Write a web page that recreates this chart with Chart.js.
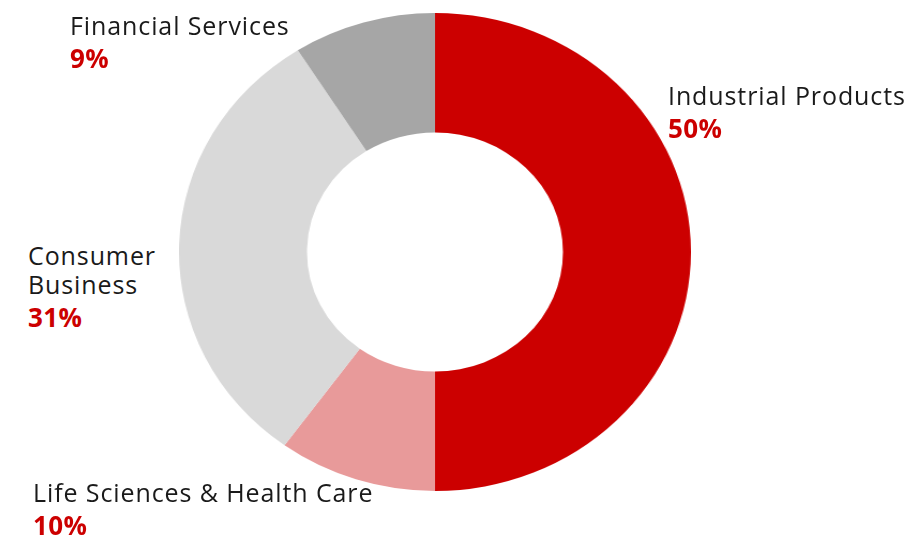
<!DOCTYPE html>
<html>
<head>
<meta charset="utf-8">
<script src="https://cdn.jsdelivr.net/npm/chart.js@4.4.1/dist/chart.umd.min.js"></script>
<style>
  html, body { margin: 0; padding: 0; background: #fff; }
  #wrap { position: relative; width: 908px; height: 536px; overflow: hidden; font-family: "Open Sans", sans-serif; }
  #pie { position: absolute; left: 179px; top: 13px; width: 478px; height: 478px;
         transform: scaleX(1.071); transform-origin: 0 0; }
  .lbl { position: absolute; font-size: 25px; line-height: 29px; letter-spacing: 0.9px; color: #1a1a1a; white-space: nowrap; }
  .lbl b { display: block; color: #cc0000; font-weight: 700; font-size: 26px; line-height: 36px; letter-spacing: 0.4px; }
</style>
</head>
<body>
<div id="wrap">
  <div id="pie"><canvas id="chart" width="478" height="478"></canvas></div>
  <div id="labels"></div>
</div>
<script>
// segment data, clockwise from 12 o'clock
const categories = ['Industrial Products', 'Life Sciences & Health Care', 'Consumer Business', 'Financial Services'];
const shares = [50, 10, 31, 9];
const colors = ['#cc0000', '#e89a9a', '#d9d9d9', '#a6a6a6'];
// how each label is broken into lines, and where it sits
const labelLines = [['Industrial Products'], ['Life Sciences & Health Care'], ['Consumer', 'Business'], ['Financial Services']];
const labelPos = [[668, 81], [33, 478], [28, 241], [70, 11]];

const ctx = document.getElementById('chart').getContext('2d');
new Chart(ctx, {
    type: 'doughnut',
    data: {
        labels: categories,
        datasets: [{
            data: shares,
            backgroundColor: colors,
            borderWidth: 0
        }]
    },
    options: {
        responsive: false,
        animation: false,
        cutout: '50%',
        rotation: 0,
        layout: { padding: 0 },
        plugins: {
            legend: { display: false },
            tooltip: { enabled: false }
        }
    }
});

const box = document.getElementById('labels');
categories.forEach((c, i) => {
    const d = document.createElement('div');
    d.className = 'lbl';
    d.style.left = labelPos[i][0] + 'px';
    d.style.top = labelPos[i][1] + 'px';
    d.innerHTML = labelLines[i].join('<br>') + '<b>' + shares[i] + '%</b>';
    box.appendChild(d);
});
</script>
</body>
</html>
